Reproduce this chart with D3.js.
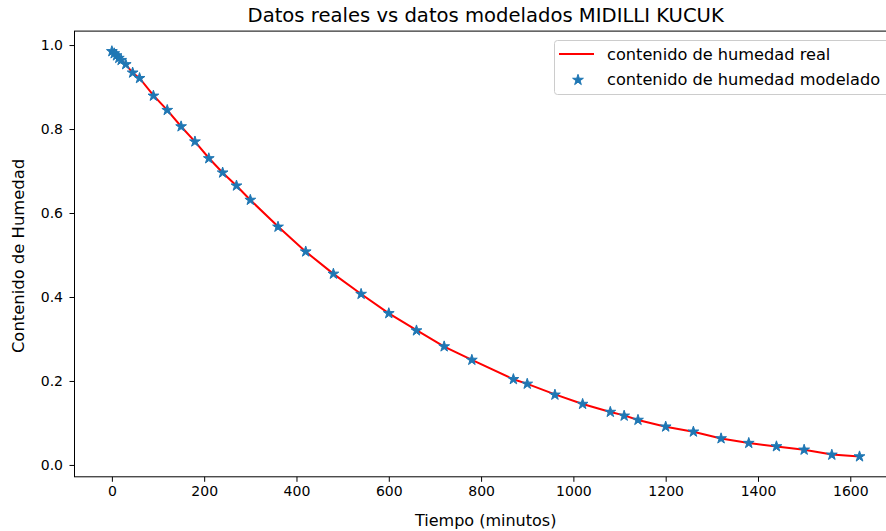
<!DOCTYPE html>
<html>
<head>
<meta charset="utf-8">
<script src="https://cdn.jsdelivr.net/npm/d3@7"></script>
<style>
  html, body { margin: 0; padding: 0; background: #fff; }
  svg { display: block; font-family: "DejaVu Sans", sans-serif; }
</style>
</head>
<body>
<svg id="chart" width="886" height="531"></svg>
<script>
// Drying time (minutes)
const tiempo = [0, 5, 10, 15, 20, 30, 45, 60, 90, 120, 150, 180, 210, 240, 270, 300,
  360, 420, 480, 540, 600, 660, 720, 780, 870, 900, 960, 1020, 1080, 1110, 1140,
  1200, 1260, 1320, 1380, 1440, 1500, 1560, 1620];

// Measured moisture ratio
const humedadReal = [0.985, 0.980, 0.975, 0.969, 0.964, 0.954, 0.934, 0.921, 0.880,
  0.845, 0.806, 0.770, 0.731, 0.696, 0.665, 0.631, 0.568, 0.508, 0.455, 0.407,
  0.361, 0.321, 0.282, 0.250, 0.204, 0.193, 0.168, 0.145, 0.126, 0.118, 0.107,
  0.091, 0.079, 0.063, 0.052, 0.044, 0.036, 0.025, 0.020];

// Moisture ratio predicted by the Midilli-Kucuk model
const humedadModelada = [0.985, 0.980, 0.975, 0.969, 0.964, 0.954, 0.934, 0.921, 0.879,
  0.845, 0.806, 0.770, 0.730, 0.696, 0.665, 0.631, 0.567, 0.508, 0.455, 0.407,
  0.361, 0.320, 0.282, 0.250, 0.204, 0.193, 0.167, 0.145, 0.126, 0.117, 0.107,
  0.091, 0.079, 0.063, 0.052, 0.044, 0.036, 0.024, 0.020];

const xTicks = [0, 200, 400, 600, 800, 1000, 1200, 1400, 1600];
const yTicks = [0.0, 0.2, 0.4, 0.6, 0.8, 1.0];

const titulo = "Datos reales vs datos modelados MIDILLI KUCUK";
const etiquetaX = "Tiempo (minutos)";
const etiquetaY = "Contenido de Humedad";
const leyenda = ["contenido de humedad real", "contenido de humedad modelado"];

const svg = d3.select("#chart");

// Plot area
const pLeft = 74.5, pRight = 896.9, pTop = 31.1, pBottom = 476.8;

// Domains padded by 5% of the data span on each side
function padded(values) {
  const [lo, hi] = d3.extent(values);
  const m = (hi - lo) * 0.05;
  return [lo - m, hi + m];
}
const x = d3.scaleLinear().domain(padded(tiempo)).range([pLeft, pRight]);
const y = d3.scaleLinear()
  .domain(padded(humedadReal.concat(humedadModelada)))
  .range([pBottom, pTop]);

// Axes
const xAxis = svg.append("g")
  .attr("transform", `translate(0,${pBottom})`)
  .call(d3.axisBottom(x).tickValues(xTicks).tickFormat(d3.format("d"))
    .tickSize(5).tickSizeOuter(0).tickPadding(4));
const yAxis = svg.append("g")
  .attr("transform", `translate(${pLeft},0)`)
  .call(d3.axisLeft(y).tickValues(yTicks).tickFormat(d3.format(".1f"))
    .tickSize(5).tickSizeOuter(0).tickPadding(6.5));

[xAxis, yAxis].forEach(g => {
  g.select(".domain").remove();
  g.selectAll(".tick line").attr("stroke", "#000").attr("stroke-width", 1);
  g.selectAll(".tick text").attr("fill", "#000")
    .style("font-size", "14px").style("font-family", "DejaVu Sans, sans-serif");
});

// Clip for data marks
svg.append("clipPath").attr("id", "plotClip")
  .append("rect").attr("x", pLeft).attr("y", pTop)
  .attr("width", pRight - pLeft).attr("height", pBottom - pTop);

const plot = svg.append("g").attr("clip-path", "url(#plotClip)");

// Measured curve
const line = d3.line().x((d, i) => x(tiempo[i])).y(d => y(d));
plot.append("path")
  .datum(humedadReal)
  .attr("d", line)
  .attr("fill", "none")
  .attr("stroke", "#ff0000")
  .attr("stroke-width", 2);

// Modelled points
const star = d3.symbol().type(d3.symbolStar).size(36);
plot.selectAll("path.pt")
  .data(humedadModelada)
  .join("path")
  .attr("class", "pt")
  .attr("d", star)
  .attr("transform", (d, i) => `translate(${x(tiempo[i])},${y(d)})`)
  .attr("fill", "#1f77b4")
  .attr("stroke", "#1f77b4")
  .attr("stroke-width", 1)
  .attr("stroke-linejoin", "miter");

// Frame
svg.append("rect")
  .attr("x", pLeft).attr("y", pTop)
  .attr("width", pRight - pLeft).attr("height", pBottom - pTop)
  .attr("fill", "none").attr("stroke", "#000").attr("stroke-width", 1);

// Title and axis labels
const cx = (pLeft + pRight) / 2;
svg.append("text")
  .attr("x", cx).attr("y", 22)
  .attr("text-anchor", "middle")
  .style("font-size", "19.6px")
  .attr("fill", "#000")
  .text(titulo);

svg.append("text")
  .attr("x", cx).attr("y", 526)
  .attr("text-anchor", "middle")
  .style("font-size", "16px")
  .attr("fill", "#000")
  .text(etiquetaX);

svg.append("text")
  .attr("transform", `translate(24,${(pTop + pBottom) / 2 + 2}) rotate(-90)`)
  .attr("text-anchor", "middle")
  .style("font-size", "16.4px")
  .attr("fill", "#000")
  .text(etiquetaY);

// Legend
const lg = svg.append("g");
lg.append("rect")
  .attr("x", 554.5).attr("y", 40.5)
  .attr("width", 340).attr("height", 54)
  .attr("rx", 3).attr("ry", 3)
  .attr("fill", "#fff").attr("fill-opacity", 0.8)
  .attr("stroke", "#cccccc").attr("stroke-width", 1);

lg.append("line")
  .attr("x1", 559).attr("x2", 594).attr("y1", 54).attr("y2", 54)
  .attr("stroke", "#ff0000").attr("stroke-width", 2);
lg.append("path")
  .attr("d", star)
  .attr("transform", "translate(578,80)")
  .attr("fill", "#1f77b4").attr("stroke", "#1f77b4").attr("stroke-width", 1);

lg.selectAll("text.lt")
  .data(leyenda)
  .join("text")
  .attr("class", "lt")
  .attr("x", 607)
  .attr("y", (d, i) => 59.5 + i * 25.5)
  .style("font-size", "16.2px")
  .attr("fill", "#000")
  .text(d => d);
</script>
</body>
</html>
